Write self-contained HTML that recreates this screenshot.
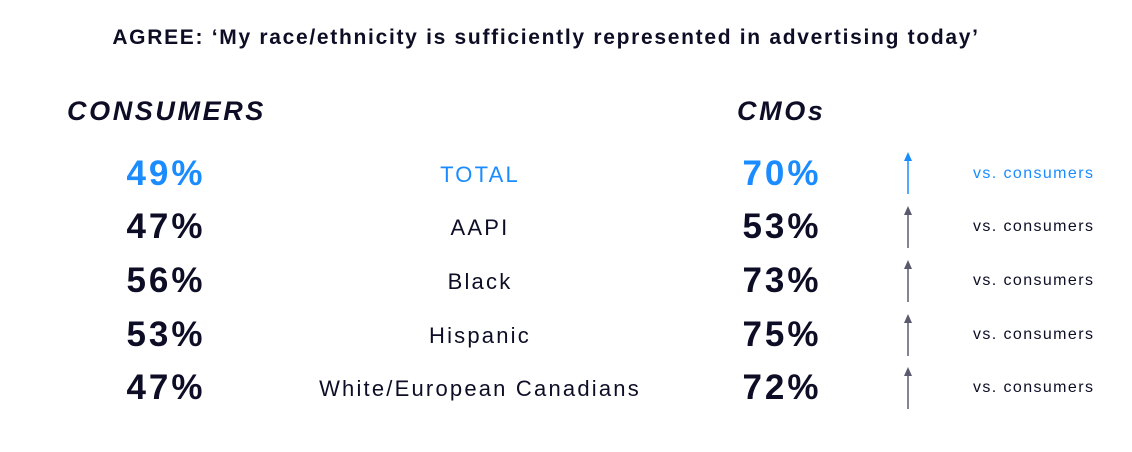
<html><head><style>
body{margin:0;width:1132px;height:452px;background:#fff;font-family:"Liberation Sans",sans-serif;position:relative;overflow:hidden;color:#0d0d26}
.a{position:absolute;white-space:nowrap}
.t{left:0;width:1092px;text-align:center;top:26px;font-size:21px;font-weight:bold;letter-spacing:1.7px}
.h{font-size:27px;font-weight:bold;font-style:italic;top:96px;letter-spacing:2.6px}
.n{font-size:35px;font-weight:bold;width:200px;text-align:center;margin-top:-21px;letter-spacing:3px}
.l{font-size:22px;width:500px;left:230px;text-align:center;margin-top:-13px;letter-spacing:2.2px}
.v{font-size:16px;left:973px;margin-top:-10px;letter-spacing:1.4px}
.b{color:#1a8cff}
</style></head><body>
<div class="a t">AGREE: ‘My race/ethnicity is sufficiently represented in advertising today’</div>
<div class="a h" style="left:67px">CONSUMERS</div>
<div class="a h" style="left:737px">CMOs</div>
<div class="a n b" style="left:66px;top:175px">49%</div><div class="a l b" style="top:175px">TOTAL</div><div class="a n b" style="left:682px;top:175px">70%</div><div class="a v b" style="top:175px">vs. consumers</div>
<div class="a n" style="left:66px;top:228px">47%</div><div class="a l" style="top:228px">AAPI</div><div class="a n" style="left:682px;top:228px">53%</div><div class="a v" style="top:228px">vs. consumers</div>
<div class="a n" style="left:66px;top:282px">56%</div><div class="a l" style="top:282px">Black</div><div class="a n" style="left:682px;top:282px">73%</div><div class="a v" style="top:282px">vs. consumers</div>
<div class="a n" style="left:66px;top:336px">53%</div><div class="a l" style="top:336px">Hispanic</div><div class="a n" style="left:682px;top:336px">75%</div><div class="a v" style="top:336px">vs. consumers</div>
<div class="a n" style="left:66px;top:389px">47%</div><div class="a l" style="top:389px">White/European Canadians</div><div class="a n" style="left:682px;top:389px">72%</div><div class="a v" style="top:389px">vs. consumers</div>
<svg class="a" style="left:0;top:0" width="1132" height="452">
<g stroke-width="1.5">
<line x1="908" y1="158" x2="908" y2="194" stroke="#1a8cff"/><polygon points="904,161 912,161 908,152" fill="#1a8cff"/>
<line x1="908" y1="212" x2="908" y2="248" stroke="#5a5a6e"/><polygon points="904,215 912,215 908,206" fill="#5a5a6e"/>
<line x1="908" y1="266" x2="908" y2="302" stroke="#5a5a6e"/><polygon points="904,269 912,269 908,260" fill="#5a5a6e"/>
<line x1="908" y1="320" x2="908" y2="356" stroke="#5a5a6e"/><polygon points="904,323 912,323 908,314" fill="#5a5a6e"/>
<line x1="908" y1="373" x2="908" y2="409" stroke="#5a5a6e"/><polygon points="904,376 912,376 908,367" fill="#5a5a6e"/>
</g></svg>
</body></html>
